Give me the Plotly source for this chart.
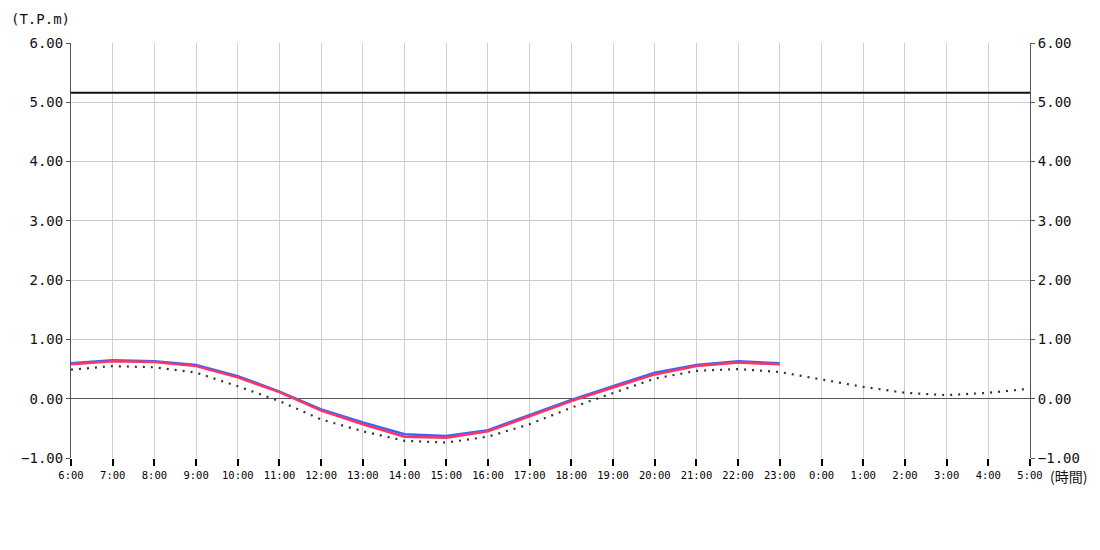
import plotly.graph_objects as go

hours = ["6:00", "7:00", "8:00", "9:00", "10:00", "11:00", "12:00", "13:00",
         "14:00", "15:00", "16:00", "17:00", "18:00", "19:00", "20:00", "21:00",
         "22:00", "23:00", "0:00", "1:00", "2:00", "3:00", "4:00", "5:00"]

# observed (blue) and corrected (red) levels, 6:00-23:00
observed = [0.60, 0.65, 0.63, 0.57, 0.38, 0.12, -0.18, -0.40, -0.60, -0.63,
            -0.53, -0.28, -0.02, 0.21, 0.44, 0.57, 0.63, 0.60]
corrected = [0.58, 0.63, 0.62, 0.55, 0.36, 0.11, -0.20, -0.43, -0.64, -0.66,
             -0.55, -0.30, -0.04, 0.19, 0.41, 0.55, 0.61, 0.58]
# astronomical tide (dotted), full 24h
predicted = [0.49, 0.55, 0.53, 0.44, 0.21, -0.04, -0.35, -0.55, -0.71, -0.74,
             -0.64, -0.43, -0.15, 0.10, 0.34, 0.47, 0.50, 0.45, 0.33, 0.20,
             0.10, 0.06, 0.10, 0.17]
warning_level = 5.16

font = "DejaVu Sans Mono"

fig = go.Figure()
fig.add_trace(go.Scatter(x=hours, y=[warning_level] * len(hours), mode="lines",
                         line=dict(color="#111111", width=2), hoverinfo="skip"))
fig.add_trace(go.Scatter(x=hours, y=predicted, mode="lines",
                         line=dict(color="#333333", width=2.2, dash="2px,6px")))
fig.add_trace(go.Scatter(x=hours[:len(observed)], y=observed, mode="lines",
                         line=dict(color="#3366ff", width=2.5)))
fig.add_trace(go.Scatter(x=hours[:len(corrected)], y=corrected, mode="lines",
                         line=dict(color="#ff3366", width=2.5)))
# dummy trace to drive the right-hand axis
fig.add_trace(go.Scatter(x=hours[:1], y=[None], yaxis="y2", showlegend=False))

yax = dict(range=[-1, 6], dtick=1, tickformat=".2f", showgrid=True,
           gridcolor="#cccccc", gridwidth=1, showline=True, linecolor="#555555",
           linewidth=1, ticks="outside", ticklen=4, tickcolor="#555555",
           tickfont=dict(family=font, size=14, color="#111111"),
           zeroline=True, zerolinecolor="#555555", zerolinewidth=1, fixedrange=True)

fig.update_layout(
    width=1092, height=542,
    margin=dict(l=63, r=70, t=35, b=92),
    plot_bgcolor="white", paper_bgcolor="white",
    showlegend=False,
    xaxis=dict(type="category", range=[0, 23], showgrid=True, gridcolor="#d0d0d0",
               showline=False, zeroline=False, ticks="outside", ticklen=7,
               tickcolor="#000000", tickwidth=1.5,
               tickfont=dict(family=font, size=10.5, color="#000000")),
    yaxis=yax,
    yaxis2=dict(yax, overlaying="y", side="right", showgrid=False, zeroline=False),
    annotations=[
        dict(text="(T.P.m)", xref="paper", yref="paper", x=0, y=1.0,
             xshift=-62, yshift=24, xanchor="left", yanchor="middle", showarrow=False,
             font=dict(family=font, size=14, color="#111111")),
        dict(text="(時間)", xref="paper", yref="paper", x=1.0, y=0.0,
             xshift=18, yshift=-18, xanchor="left", yanchor="middle", showarrow=False,
             font=dict(family="Noto Sans CJK JP", size=14, color="#111111")),
    ],
)

fig.write_html("out.html")
